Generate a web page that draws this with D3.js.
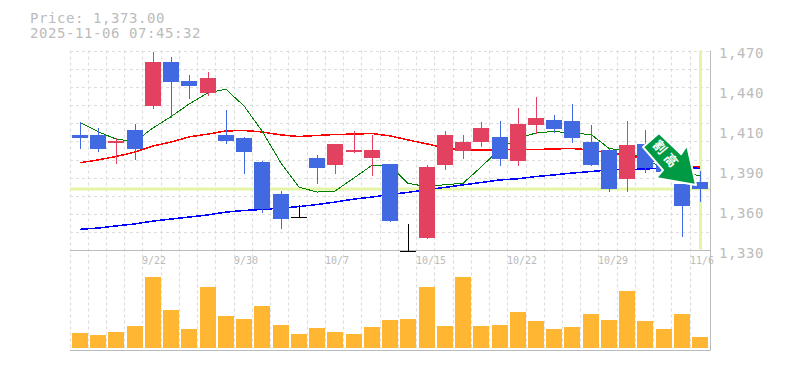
<!DOCTYPE html>
<html>
<head>
    <meta charset="utf-8">
    <style>
        html, body { margin: 0; background: #fff; }
        svg { display: block; }
        text { font-family: "DejaVu Sans Mono", monospace; fill: #bbb; }
        .domain { display: none; }
        .tick line { display: none; }
    </style>
</head>
<body>
    <svg id="chart"></svg>

    <script src="https://d3js.org/d3.v7.min.js"></script>
    <script>
        const dates = ["9/16","9/17","9/18","9/19","9/22","9/24","9/25","9/26","9/29","9/30",
            "10/1","10/2","10/3","10/6","10/7","10/8","10/9","10/10","10/14","10/15",
            "10/16","10/17","10/20","10/21","10/22","10/23","10/24","10/27","10/28","10/29",
            "10/30","10/31","11/4","11/5","11/6"];

        const opens = [1410.9,1410.9,1405.2,1414.4,1431.2,1462,1448.7,1440.2,1410.9,1408.8,
            1391.9,1369.5,1353.2,1394.8,1389.9,1399,1394.8,1390.5,1329.4,1338.7,
            1389.9,1399.7,1405.9,1409.5,1392.6,1417.9,1421.4,1420.7,1405.9,1400.4,
            1380,1404.6,1396,1376.6,1377.9];
        const highs = [1419.7,1416,1408.5,1418.6,1469.2,1465.7,1452.8,1455,1428.4,1409.2,
            1393,1371.6,1361.9,1396.9,1404.6,1413.7,1410.9,1390.5,1348.5,1389.9,
            1413.7,1410.9,1420,1420.7,1429.8,1437.5,1424.9,1432.5,1417.9,1401.8,
            1420.7,1414.4,1400,1376.6,1385.7];
        const lows = [1402,1399.7,1391.5,1394,1429.8,1423.7,1436.8,1438.9,1405.5,1384.2,
            1356.9,1345.7,1353.2,1377.2,1384.2,1399,1382.9,1350.6,1329.4,1338.7,
            1387,1394.8,1403.2,1389.9,1389.9,1412.2,1413.2,1406.2,1389.9,1371.6,
            1371.6,1385,1380,1340.4,1364.6];
        const closes = [1409,1401.1,1406.7,1401.1,1462,1448.2,1445.2,1450.8,1406.7,1399,
            1359,1352,1353.2,1387.8,1404.6,1400.4,1400.4,1350.6,1329.4,1388.5,
            1410.9,1405.9,1415.8,1394,1418.6,1422.8,1415,1408.8,1389.9,1373,
            1403.9,1387.8,1385,1361.1,1373];

        const maShort = [1419.6,1413.2,1408,1406.2,1415.8,1423.7,1432.5,1440.5,1442.8,1431.2,
            1413.7,1391.2,1374.4,1370.9,1371.6,1380.8,1389.6,1389.2,1377,1374.7,
            1376.1,1377,1388.4,1401.1,1408.8,1412.2,1413.4,1412,1411.3,1401.5,
            1399.6,1393.4,1387.8,1384.2,1382.4];
        const maMid = [1391.4,1393.4,1395.8,1398.9,1403.2,1405.9,1409.5,1411.5,1413.7,1414,
            1413,1410.9,1409.8,1410.5,1411.2,1411.5,1411.9,1410.2,1407.4,1404.6,
            1401.8,1400.4,1400.4,1400.4,1400.7,1400.7,1401.1,1401.4,1400.4,1398.2,
            1396.9,1394,1391.2,1389.2,1388.5];
        const maLong = [1344.8,1345.7,1347.2,1348.6,1350.6,1352,1353.4,1354.9,1356.9,1358,
            1358.7,1359.7,1360.7,1362.2,1363.9,1366,1367.4,1369.2,1370.7,1372.5,
            1374.2,1375.9,1377.6,1379.4,1380.2,1381.8,1382.9,1384.2,1385.3,1386.4,
            1386.7,1387,1387.8,1387.8,1387.8];

        const volumes = [15000,13000,16000,22000,71000,38000,19000,61000,32000,29000,
            42000,23000,14000,20000,16000,14000,21000,28000,29000,61000,
            22000,71000,22000,23000,36000,27000,19000,21000,34000,28000,
            57000,27000,19000,34000,11000];

        const priceTicks = [1470,1442,1414,1386,1358,1330];
        const dateTicks = ["9/22","9/30","10/7","10/15","10/22","10/29","11/6"];
        const lastPrice = 1373;
        const titleLines = ["Price: 1,373.00","2025-11-06 07:45:32"];
        const signalLabel = "割高";

        const svgWidth = 785;
        const svgHeight = 370;
        const svg = d3.select("svg")
            .attr("width", svgWidth)
            .attr("height", svgHeight);

        const plotLeft = 70, plotRight = 710, plotTop = 50.5, plotMid = 250.5, plotBottom = 350.5;
        const bandStep = 18.24;

        const x = d3.scaleBand().domain(dates).range([plotLeft, plotLeft + bandStep * dates.length]);
        const y = d3.scaleLinear().domain([1330, 1470]).range([plotMid, plotTop]);
        const yVol = d3.scaleLinear().domain([0, 100000]).range([348, 248]);
        const center = d => Math.round(x(d) + 2) + 8;

        // grid
        const grid = svg.append("g")
            .attr("stroke", "#ddd")
            .attr("stroke-width", 1.2)
            .attr("stroke-dasharray", "3,3");
        grid.selectAll(".v").data(dates).enter().append("line")
            .attr("x1", d => Math.floor(x(d)) + 0.5)
            .attr("x2", d => Math.floor(x(d)) + 0.5)
            .attr("y1", plotTop).attr("y2", plotBottom);
        grid.selectAll(".h").data(d3.range(11)).enter().append("line")
            .attr("x1", plotLeft).attr("x2", plotRight)
            .attr("y1", i => Math.round(y(1470 - i * 140 / 11)) + 0.5)
            .attr("y2", i => Math.round(y(1470 - i * 140 / 11)) + 0.5);

        // last price and last date markers
        svg.append("line")
            .attr("x1", plotLeft).attr("x2", plotRight)
            .attr("y1", y(lastPrice)).attr("y2", y(lastPrice))
            .attr("stroke", "#e4f5a8").attr("stroke-width", 3);
        svg.append("line")
            .attr("x1", center("11/6") + 0.5).attr("x2", center("11/6") + 0.5)
            .attr("y1", plotTop).attr("y2", plotMid - 1)
            .attr("stroke", "#e4f5a8").attr("stroke-width", 3);

        // frame
        const frame = svg.append("g").attr("stroke", "#bbb");
        frame.append("line").attr("x1", plotLeft).attr("x2", plotRight + 0.5).attr("y1", plotMid).attr("y2", plotMid);
        frame.append("line").attr("x1", plotLeft).attr("x2", plotRight + 0.5).attr("y1", plotBottom).attr("y2", plotBottom);
        frame.append("line").attr("x1", plotRight + 0.5).attr("x2", plotRight + 0.5).attr("y1", plotTop).attr("y2", plotBottom);

        // moving averages
        const line = d3.line().x((d, i) => center(dates[i])).y(d => y(d));
        [[maLong, "#0000ff", 1.5], [maMid, "#ff0000", 1.5], [maShort, "#008000", 1]].forEach(s => {
            svg.append("path")
                .attr("d", line(s[0]))
                .attr("fill", "none")
                .attr("stroke", s[1])
                .attr("stroke-width", s[2])
                .attr("shape-rendering", "crispEdges");
        });

        // candles
        const color = i => closes[i] > opens[i] ? "#e2425f" : closes[i] < opens[i] ? "#4169e1" : "#000";
        const candles = svg.append("g").selectAll("g").data(dates).enter().append("g");
        candles.append("rect")
            .attr("x", d => center(d))
            .attr("width", 1)
            .attr("y", (d, i) => Math.round(y(highs[i])))
            .attr("height", (d, i) => Math.round(y(lows[i])) - Math.round(y(highs[i])) + 1)
            .attr("fill", (d, i) => color(i));
        candles.append("rect")
            .attr("x", d => center(d) - 8)
            .attr("width", 16)
            .attr("y", (d, i) => Math.round(y(Math.max(opens[i], closes[i]))))
            .attr("height", (d, i) => Math.max(1, Math.round(y(Math.min(opens[i], closes[i]))) - Math.round(y(Math.max(opens[i], closes[i])))))
            .attr("fill", (d, i) => color(i));

        // volume
        svg.append("g").selectAll("rect").data(volumes).enter().append("rect")
            .attr("x", (d, i) => center(dates[i]) - 8)
            .attr("width", 16)
            .attr("y", d => yVol(d))
            .attr("height", d => yVol(0) - yVol(d))
            .attr("fill", "#ffb733");

        // signal arrow, placed from its tip
        const tipX = center("11/6") - 4, tipY = y(lastPrice) - 4;
        const arrow = svg.append("g").attr("transform", "translate(" + tipX + "," + tipY + ")");
        arrow.append("path")
            .attr("d", "M-37,-52 L-53,-38 L-33,-15 L-40,-7 L0,0 L-9,-40 L-15,-31 Z")
            .attr("fill", "#009a44")
            .attr("stroke", "#fff")
            .attr("stroke-width", 2)
            .attr("stroke-linejoin", "round");
        arrow.append("text")
            .attr("transform", "translate(-29,-30) rotate(50)")
            .attr("text-anchor", "middle")
            .attr("dy", "0.38em")
            .style("font-family", "'Noto Sans CJK JP'")
            .style("font-size", "13px")
            .style("font-weight", "700")
            .style("letter-spacing", "4px")
            .style("fill", "#fff")
            .text(signalLabel);

        // axes
        const priceAxis = d3.axisRight(y)
            .tickValues(priceTicks)
            .tickSize(0)
            .tickFormat(d => d3.format(",")(Math.round(d / 10) * 10));
        svg.append("g")
            .attr("transform", "translate(" + (plotRight + 9) + ",0)")
            .call(priceAxis)
            .selectAll("text")
            .attr("x", 0)
            .attr("dy", "6.5px")
            .style("font-size", "14px")
            .style("letter-spacing", "0.57px");

        const dateAxis = d3.axisBottom(x).tickValues(dateTicks).tickSize(0);
        svg.append("g")
            .attr("transform", "translate(0," + plotMid + ")")
            .call(dateAxis)
            .selectAll(".tick")
            .attr("transform", d => "translate(" + Math.floor(x(d)) + ",0)")
            .select("text")
            .attr("text-anchor", "start")
            .attr("y", 13)
            .attr("dy", 0)
            .style("font-size", "10px");

        // title
        svg.selectAll(".title").data(titleLines).enter().append("text")
            .attr("x", 30)
            .attr("y", (d, i) => 23 + i * 15)
            .style("font-size", "14px")
            .style("letter-spacing", "0.57px")
            .text(d => d);
    </script>
</body>
</html>
